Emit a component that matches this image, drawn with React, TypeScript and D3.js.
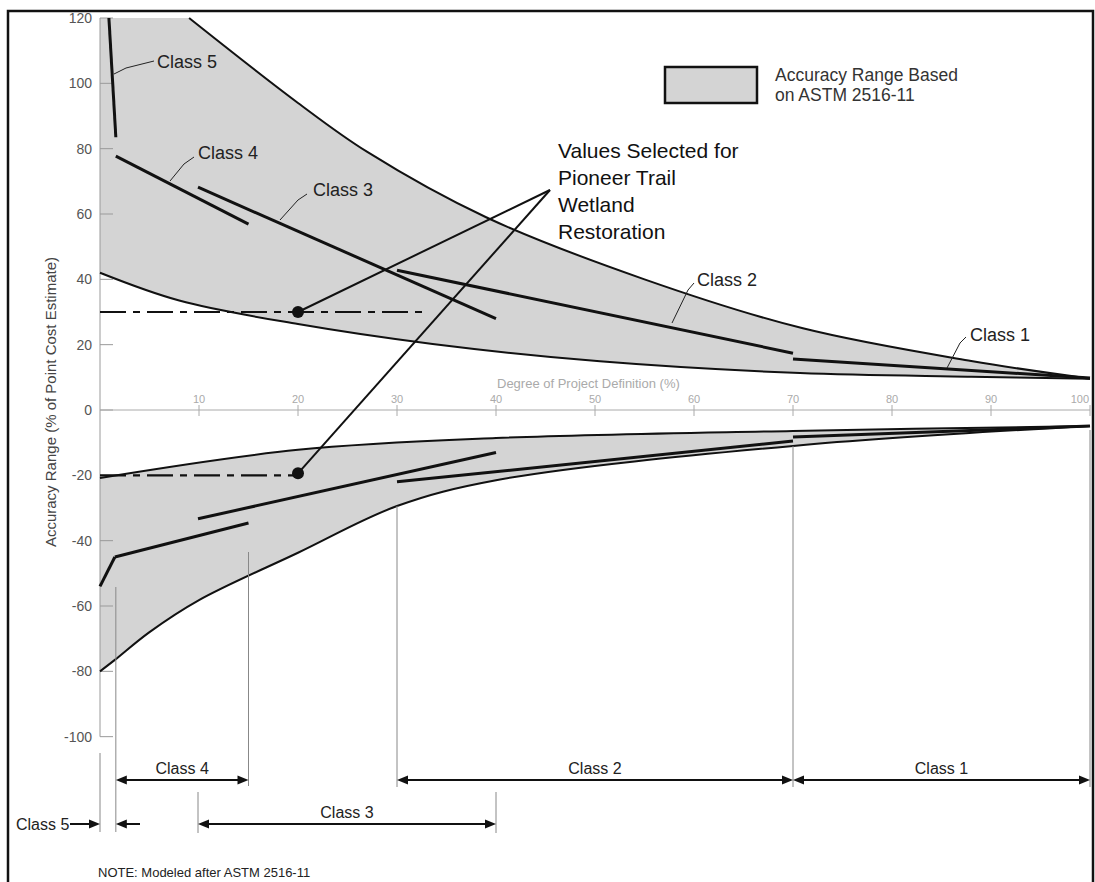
import React from "react";
import * as d3 from "d3";

type P = [number, number];

// Degree of project definition (%) vs accuracy range (% of point cost estimate)
const X_TICKS = [10, 20, 30, 40, 50, 60, 70, 80, 90, 100];
const Y_TICKS = [120, 100, 80, 60, 40, 20, 0, -20, -40, -60, -80, -100];

const upperHigh: P[] = [[9, 120], [20, 94], [27, 79], [39, 59], [55, 40], [71, 25], [88, 15], [100, 9.6]];
const upperLow: P[] = [[0, 42], [8, 33.5], [20, 26.3], [33.6, 20.2], [50.5, 14.9], [70.7, 11.3], [88, 10.2], [100, 9.6]];
const lowerHigh: P[] = [[0, -20.8], [20, -12.2], [40, -8.6], [70, -6.4], [100, -4.9]];
const lowerLow: P[] = [[0, -80], [1.5, -76.5], [5, -68], [10, -58.2], [20, -43.7], [30, -29.4], [40, -21.5], [70, -11], [100, -4.9]];

const class5Up: P[] = [[0.9, 120], [1.6, 83.5]];
const class4Up: P[] = [[1.6, 77.7], [15, 56.9]];
const class3Up: P[] = [[9.9, 68.2], [40, 28]];
const class2Up: P[] = [[30, 42.8], [70, 17.4]];
const class1Up: P[] = [[70, 15.6], [100, 9.8]];
const class5Lo: P[] = [[0, -54], [1.5, -45]];
const class4Lo: P[] = [[1.5, -45], [15, -34.6]];
const class3Lo: P[] = [[9.9, -33.3], [40, -13]];
const class2Lo: P[] = [[30, -22], [70, -9.5]];
const class1Lo: P[] = [[70, -8.3], [100, -4.9]];

const selectedHigh: P = [20, 30];
const selectedLow: P = [20, -20];
const selectedHighDashEnd = 33;

const classRanges = [
  { label: "Class 4", from: 1.6, to: 15, row: 0 },
  { label: "Class 2", from: 30, to: 70, row: 0 },
  { label: "Class 1", from: 70, to: 100, row: 0 },
  { label: "Class 3", from: 9.9, to: 40, row: 1 },
];

const W = 1095;
const H = 882;
const FONT = "Liberation Sans, Arial, Helvetica, sans-serif";

export default function App() {
  const x = d3.scaleLinear().domain([0, 100]).range([100, 1090]);
  const y = d3.scaleLinear().domain([0, 120]).range([410, 18]);

  const curve = d3.line<P>().x((d) => x(d[0])).y((d) => y(d[1])).curve(d3.curveCatmullRom.alpha(0.5));
  const straight = d3.line<P>().x((d) => x(d[0])).y((d) => y(d[1]));

  const band = (top: P[], bottom: P[], prefix?: P) => {
    const t = curve(top) || "";
    const b = (curve([...bottom].reverse()) || "").replace(/^M/, "L");
    if (prefix) {
      return `M${x(prefix[0])},${y(prefix[1])}` + t.replace(/^M/, "L") + b + "Z";
    }
    return t + b + "Z";
  };

  const shade = "#d4d4d4";
  const axisGray = "#9a9a9a";

  const arrowHead = (px: number, py: number, dir: 1 | -1, key: string) => (
    <path
      key={key}
      d={`M${px},${py} L${px - dir * 11},${py - 4.5} L${px - dir * 11},${py + 4.5} Z`}
      fill="#111"
    />
  );

  const row0 = 780;
  const row1 = 824;

  const dividerLines: { xv: number; y1: number; y2: number }[] = [
    { xv: 0, y1: 753, y2: 832 },
    { xv: 1.6, y1: 587, y2: 832 },
    { xv: 15, y1: 552, y2: 786 },
    { xv: 30, y1: 506, y2: 787 },
    { xv: 70, y1: 446, y2: 787 },
    { xv: 100, y1: 430, y2: 787 },
    { xv: 9.9, y1: 792, y2: 833 },
    { xv: 40, y1: 792, y2: 833 },
  ];

  const classLines = [class5Up, class4Up, class3Up, class2Up, class1Up, class5Lo, class4Lo, class3Lo, class2Lo, class1Lo];

  const apex: [number, number] = [550, 190];

  return (
    <svg
      width={W}
      height={H}
      style={{ position: "absolute", left: 0, top: 0, background: "#fff" }}
      fontFamily={FONT}
    >
      <rect x={0} y={0} width={W} height={H} fill="#fff" />
      <defs>
        <clipPath id="plotClip">
          <rect x={0} y={15} width={W} height={H} />
        </clipPath>
      </defs>

      {/* shaded bands */}
      <g clipPath="url(#plotClip)">
        <path d={band(upperHigh, upperLow, [0, 120])} fill={shade} />
        <path d={band(lowerHigh, lowerLow)} fill={shade} />
      </g>

      {/* y axis */}
      <line x1={x(0)} x2={x(0)} y1={y(120)} y2={y(-100)} stroke={axisGray} strokeWidth={1} />
      {Y_TICKS.map((t) => (
        <g key={`yt${t}`}>
          <line x1={x(0)} x2={x(0) + 13} y1={y(t)} y2={y(t)} stroke={axisGray} strokeWidth={1} />
          <text x={92} y={y(t) + 5} textAnchor="end" fontSize={14} fill="#555">
            {t}
          </text>
        </g>
      ))}
      <text
        transform={`translate(56,${402}) rotate(-90)`}
        textAnchor="middle"
        fontSize={15}
        fill="#444"
      >
        Accuracy Range (% of Point Cost Estimate)
      </text>

      {/* x axis at zero */}
      <line x1={x(0)} x2={x(100)} y1={y(0)} y2={y(0)} stroke="#aaa" strokeWidth={1} />
      {X_TICKS.map((t) => (
        <g key={`xt${t}`}>
          <line x1={x(t)} x2={x(t)} y1={y(0) - 5} y2={y(0) + 6} stroke="#aaa" strokeWidth={1} />
          <text
            x={t === 100 ? x(t) - 1 : x(t)}
            y={y(0) - 7}
            textAnchor={t === 100 ? "end" : "middle"}
            fontSize={11}
            fill="#aaa"
          >
            {t}
          </text>
        </g>
      ))}
      <text x={497} y={388} fontSize={13} fill="#aaa">
        Degree of Project Definition (%)
      </text>

      {/* boundary curves */}
      <g clipPath="url(#plotClip)" fill="none" stroke="#111" strokeWidth={2}>
        <path d={curve(upperHigh) || ""} />
        <path d={curve(upperLow) || ""} />
        <path d={curve(lowerHigh) || ""} />
        <path d={curve(lowerLow) || ""} />
      </g>

      {/* class lines */}
      <g fill="none" stroke="#111" strokeWidth={3}>
        {classLines.map((c, i) => (
          <path key={`cl${i}`} d={straight(c) || ""} />
        ))}
      </g>

      {/* selected values */}
      <line
        x1={x(0)}
        x2={x(selectedHighDashEnd)}
        y1={y(selectedHigh[1])}
        y2={y(selectedHigh[1])}
        stroke="#111"
        strokeWidth={2.2}
        strokeDasharray="26,7,7,7"
      />
      <line
        x1={x(0)}
        x2={x(selectedLow[0])}
        y1={y(selectedLow[1])}
        y2={y(selectedLow[1])}
        stroke="#111"
        strokeWidth={2.2}
        strokeDasharray="26,7,7,7"
      />
      <line x1={apex[0]} y1={apex[1]} x2={x(selectedHigh[0])} y2={y(selectedHigh[1])} stroke="#111" strokeWidth={2} />
      <line x1={apex[0]} y1={apex[1]} x2={x(selectedLow[0])} y2={y(selectedLow[1]) - 2} stroke="#111" strokeWidth={2} />
      <circle cx={x(selectedHigh[0])} cy={y(selectedHigh[1])} r={6} fill="#111" />
      <circle cx={x(selectedLow[0])} cy={y(selectedLow[1]) - 2} r={6} fill="#111" />
      <g fontSize={21} fill="#111">
        <text x={558} y={158}>Values Selected for</text>
        <text x={558} y={185}>Pioneer Trail</text>
        <text x={558} y={212}>Wetland</text>
        <text x={558} y={239}>Restoration</text>
      </g>

      {/* class labels with leaders */}
      <g stroke="#222" strokeWidth={1} fill="none">
        <polyline points="114,74 126,68 154,61" />
        <polyline points="170,181 184,164 194,157" />
        <polyline points="280,220 298,200 307,194" />
        <polyline points="672,323 688,290 694,283" />
        <polyline points="947,368 960,343 966,337" />
      </g>
      <g fontSize={18} fill="#222">
        <text x={157} y={68}>Class 5</text>
        <text x={198} y={159}>Class 4</text>
        <text x={313} y={196}>Class 3</text>
        <text x={697} y={286}>Class 2</text>
        <text x={970} y={341}>Class 1</text>
      </g>

      {/* legend */}
      <rect x={665} y={67} width={92} height={36} fill={shade} stroke="#111" strokeWidth={2.5} />
      <g fontSize={17.5} fill="#333">
        <text x={775} y={81}>Accuracy Range Based</text>
        <text x={775} y={101}>on ASTM 2516-11</text>
      </g>

      {/* class range dividers */}
      {dividerLines.map((d, i) => (
        <line key={`dv${i}`} x1={x(d.xv)} x2={x(d.xv)} y1={d.y1} y2={d.y2} stroke="#888" strokeWidth={1} />
      ))}

      {/* class range arrows */}
      {classRanges.map((c) => {
        const yy = c.row === 0 ? row0 : row1;
        const x1 = x(c.from);
        const x2 = x(c.to);
        return (
          <g key={c.label}>
            <line x1={x1 + 4} x2={x2 - 4} y1={yy} y2={yy} stroke="#111" strokeWidth={2} />
            {arrowHead(x1, yy, -1, "a")}
            {arrowHead(x2, yy, 1, "b")}
            <text x={(x1 + x2) / 2} y={yy - 6} textAnchor="middle" fontSize={16} fill="#222">
              {c.label}
            </text>
          </g>
        );
      })}

      {/* class 5 outward arrows */}
      <line x1={70} x2={x(0) - 4} y1={row1} y2={row1} stroke="#111" strokeWidth={2} />
      {arrowHead(x(0), row1, 1, "c5a")}
      <line x1={x(1.6) + 4} x2={140} y1={row1} y2={row1} stroke="#111" strokeWidth={2} />
      {arrowHead(x(1.6), row1, -1, "c5b")}
      <text x={16} y={row1 + 6} fontSize={16} fill="#222">
        Class 5
      </text>

      <text x={98} y={877} fontSize={13} fill="#222">
        NOTE: Modeled after ASTM 2516-11
      </text>

      {/* frame */}
      <rect x={8} y={11} width={1085} height={900} fill="none" stroke="#111" strokeWidth={2.5} />
    </svg>
  );
}
